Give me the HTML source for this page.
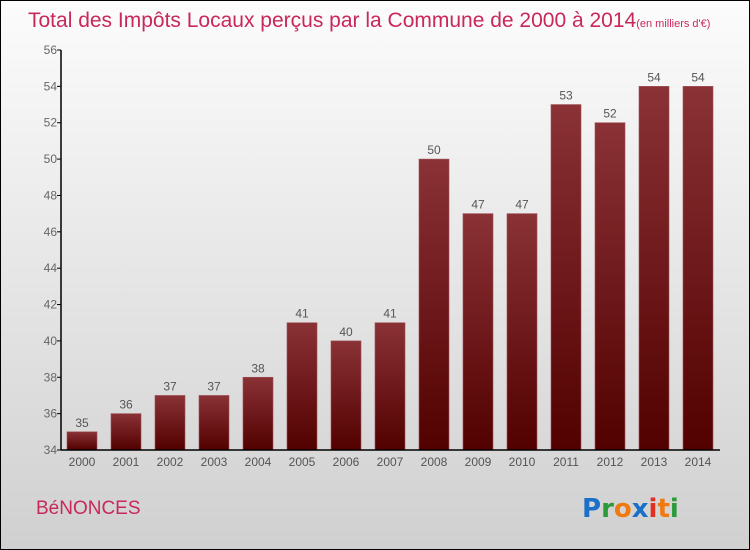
<!DOCTYPE html>
<html><head><meta charset="utf-8"><style>
body{margin:0;}
#c{width:750px;height:550px;position:relative;box-sizing:border-box;border:1px solid #000;background:linear-gradient(#fcfcfc,#d0d0d0);overflow:hidden;font-family:"Liberation Sans",sans-serif;}
</style></head><body>
<div id="c">
<svg id="s" width="750" height="550" style="position:absolute;left:-1px;top:-1px">
<defs><linearGradient id="bg" x1="0" y1="0" x2="0" y2="1"><stop offset="0" stop-color="#8a3236"/><stop offset="1" stop-color="#520000"/></linearGradient></defs>
<text x="28" y="27" font-size="21" fill="#c8285a">Total des Impôts Locaux perçus par la Commune de 2000 à 2014<tspan font-size="11">(en milliers d'€)</tspan></text>
<text x="36" y="514" font-size="19" fill="#c8285a">BéNONCES</text>
<g font-size="26" font-weight="bold" font-family="'DejaVu Sans',sans-serif">
<text x="582" y="517"><tspan fill="#1a6fc8">P</tspan><tspan fill="#2a9a3a">r</tspan><tspan fill="#f07a10">o</tspan><tspan fill="#1a6fc8">x</tspan><tspan fill="#e03020">i</tspan><tspan fill="#f07a10">t</tspan><tspan fill="#2a9a3a">i</tspan></text></g>
<g id="g"></g>
</svg>
</div>
<script>
const yearsList=["2000","2001","2002","2003","2004","2005","2006","2007","2008","2009","2010","2011","2012","2013","2014"];
const taxValues=[35,36,37,37,38,41,40,41,50,47,47,53,52,54,54];
const yTicks=[34,36,38,40,42,44,46,48,50,52,54,56];
const yMin=34,yMax=56,plotTop=50,plotBot=450,x0=82,step=44,bw=30;
const ns="http://www.w3.org/2000/svg",g=document.getElementById('g');
function Y(v){return plotBot-(v-yMin)/(yMax-yMin)*(plotBot-plotTop);}
function X(i){return x0+i*step;}
function mk(t,a,txt){const e=document.createElementNS(ns,t);for(const k in a)e.setAttribute(k,a[k]);if(txt!=null)e.textContent=txt;g.appendChild(e);return e;}
taxValues.forEach((v,i)=>{
 const r=mk('rect',{x:X(i)-bw/2,y:Y(v),width:bw,height:plotBot-Y(v),fill:'url(#bg)',stroke:'#a05058','stroke-width':0.6});
 
 
 const t=mk('text',{x:X(i),y:Y(v)-5,'text-anchor':'middle','font-size':12,fill:'#555'},String(v));
 
 
 const xl=mk('text',{x:X(i),y:plotBot+16,'text-anchor':'middle','font-size':12,fill:'#555'},yearsList[i]);
 
 
});
yTicks.forEach(v=>{
 const l=mk('line',{x1:57,x2:61,y1:Y(v),y2:Y(v),stroke:'#000'});
 
 
 const t=mk('text',{x:57,y:Y(v)+4,'text-anchor':'end','font-size':12,fill:'#666'},String(v));
 
 
});
const ya=mk('line',{x1:61,x2:61,y1:plotTop,y2:plotBot,stroke:'#000','stroke-width':1.5});


const xa=mk('line',{x1:61,x2:720,y1:plotBot,y2:plotBot,stroke:'#000','stroke-width':1.5});


</script>
</body></html>
